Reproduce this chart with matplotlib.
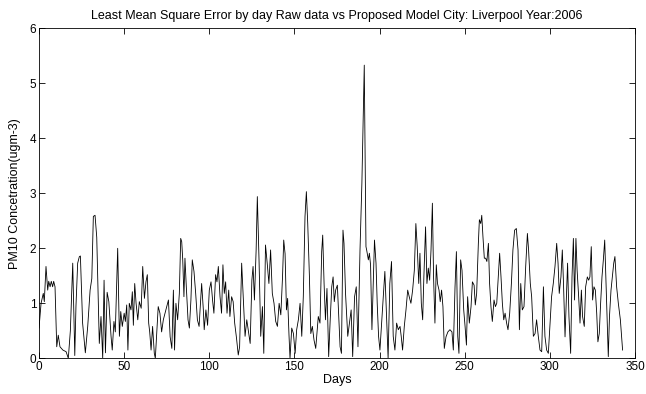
import matplotlib
matplotlib.use("Agg")
import matplotlib.pyplot as plt

# day positions and values
days = [0, 1.2, 2.5, 3.1, 4.1, 5.1, 5.7, 6.5, 7.2, 8.0, 8.6, 9.4, 10.4, 11.3, 12.3, 14, 15.9,
        17.2, 18.4, 19.8, 21, 21.7, 22.7, 23.7, 24.3, 25.6, 27.2, 28.6, 30, 31, 31.9, 32.9,
        33.9, 35.4, 36.4, 37.4, 38.2, 39, 40, 41, 42.3, 43, 44, 44.8, 46.2, 47.2, 48, 48.9,
        50, 50.7, 51.5, 52.2, 53, 54, 54.8, 55.4, 56.2, 57, 58, 58.9, 60, 60.9, 61.9, 62.8,
        63.6, 64.4, 65, 65.8, 66.7, 67.7, 68.3, 69, 70, 71, 72, 73, 74, 75, 76, 77, 78, 78.9,
        79.6, 80.4, 81.4, 82.4, 83.2, 83.8, 84.4, 85.1, 85.7, 86.5, 87.5, 88.3, 89.2, 90, 91,
        92, 93, 94, 94.7, 95.5, 96.5, 97, 98, 99, 100, 101, 102, 102.7, 103.7, 104.5, 105.3,
        106.3, 107.2, 108, 108.8, 109.6, 110.4, 111.4, 112.1, 113.1, 114, 114.9, 116, 117,
        117.8, 119, 120,
        121, 122, 123, 124, 125, 125.7, 126.5, 127.5, 128.2, 129.2, 130.2, 131.2, 132, 133,
        134, 135, 136, 137, 138, 139, 140, 141, 142, 143, 143.7, 144.5, 145.3, 146, 146.8,
        147.4, 148.4, 149.4, 150.4, 151.3, 152.3, 153.3, 154.3, 155.2, 156.2, 157, 157.8,
        158.8, 159.6, 160.5, 161.5, 162.5, 163.3, 164, 165, 166, 166.6, 167.4, 168.2, 169.1,
        170.1, 171, 171.9, 172.7, 173.4, 174.2, 175.2, 176, 176.8, 177.6, 178.5, 179.1, 180,
        181.3, 182.3, 183.3, 184.2,
        185.3, 186.3, 187.3, 188.5, 189.6, 191, 192, 192.4, 193.4, 194, 194.7, 195.5, 196.3,
        197, 197.9, 198.6, 199.4, 200.2, 201.2, 202.2, 203.1, 204.1, 205, 206, 207, 208, 209,
        210, 211, 212, 212.7, 213.5, 214.5, 215.5, 216.5, 217.4, 218.4, 219.4, 220.4, 221.3,
        222.1, 223, 223.7, 224.5, 225.3, 226, 227, 227.8, 228.6, 229.4, 230.2, 231, 231.7,
        232.5, 233.3, 234, 234.9, 235.6, 236.4, 237.2, 238, 239, 240.1, 241.3, 242.5, 243.3,
        244.3, 245.1, 245.9, 246.6, 247.6, 248.4, 249.4, 250.2, 251, 251.7, 252.7, 253.7,
        254.5, 255.5, 256.2, 257, 258, 258.6, 259.4, 260, 260.7, 261.5, 262.3, 263, 263.9,
        264.6, 265.4, 266.2, 267.2, 268, 268.8, 269.7, 270.5, 271.3, 272.1, 272.9, 273.7,
        274.6, 275.4, 276.4, 277.4, 278.3, 279.3, 280.3, 281.3, 282.1, 282.9, 283.8, 284.8,
        285.8, 286.8, 287.5, 288.5, 289.3, 290.3, 291.3, 292.2, 293.2, 294.2, 295.2, 296.2,
        297.1, 298.1, 299.1, 300.1, 301, 302,
        303, 304, 304.8, 305.5, 306.5, 307.3, 308, 308.9, 309.7, 310.4, 311.2, 312.2, 313,
        313.8, 314.5, 315.3, 316, 316.9, 317.7, 318.5, 319.2, 320.2, 321, 322, 322.8, 323.5,
        324.3, 325.1, 325.9, 326.7, 327.5, 328.2, 329, 329.8, 330.6, 331.4, 332.2, 333, 333.7,
        334.3, 335, 335.9, 336.7, 337.5, 338.2, 339.2, 340.2, 341.4, 342.7]

lmse = [0.55, 1.0, 1.18, 1.03, 1.67, 1.24, 1.4, 1.3, 1.4, 1.3, 1.4, 1.3, 0.21, 0.42, 0.21, 0.15, 0.12,
        0.0, 0.5, 1.73, 0.05, 0.95, 1.73, 1.85, 1.86, 0.64, 0.1, 0.58, 1.24, 1.45, 2.58, 2.6,
        2.2, 0.27, 0.76, 0.0, 1.42, 0.1, 1.2, 1.03, 0.4, 0.15, 0.67, 0.48, 2.0, 0.4, 0.85, 0.58,
        0.82, 0.67, 0.97, 0.15, 1.0, 0.88, 1.21, 0.6, 1.36, 1.0, 0.7, 1.03, 0.91, 1.67, 1.09, 1.39,
        1.52, 0.64, 0.48, 0.15, 0.58, 0.09, 0.0, 0.39, 0.94, 0.82, 0.48, 0.7, 0.82, 0.94, 1.06, 0.39, 0.18, 1.24,
        0.15, 1.0, 0.7, 1.18, 2.18, 2.12, 1.79, 1.12, 1.82, 1.3, 0.7, 0.55, 1.06, 1.79, 1.58,
        1.18, 0.7, 0.58, 0.94, 1.36, 0.88, 0.52, 0.88, 0.6, 1.24, 1.39, 1.03, 0.82, 1.52, 1.39, 1.67,
        1.12, 0.82, 1.7, 1.18, 1.39, 0.82, 1.24, 0.76, 1.12, 1.03, 0.64, 0.36, 0.06,
        0.21, 1.73, 1.06,
        0.4, 0.7, 0.48, 0.27, 1.42, 1.67, 1.06, 1.97, 2.94, 1.79, 0.4, 0.94, 0.09, 2.06,
        1.73, 1.36, 1.97, 1.18, 1.0, 0.67, 0.58, 1.0, 0.79, 1.48, 2.15, 1.9, 0.88, 1.09, 0.42,
        0.0, 0.55, 0.45, 0.09, 0.52, 0.7, 1.0, 0.4, 1.12, 2.58, 3.03, 2.45,
        1.48, 0.45, 0.58, 0.33, 0.18, 0.48, 0.76, 0.64, 1.94, 2.24, 1.36, 0.7, 1.27,
        0.03, 0.7, 1.3, 1.48, 1.03, 1.24, 1.33, 0.76, 0.21, 0.09, 2.33, 2.09, 1.18,
        0.4, 0.64, 0.88, 0.03,
        1.12, 1.3, 0.21, 1.97, 3.18, 5.33, 2.03, 1.97, 1.79, 1.91, 1.7, 0.52, 1.36,
        2.15, 1.73, 1.0, 0.4, 0.15, 0.64, 1.12, 1.58, 0.76, 0.0, 1.36, 1.76, 0.4, 0.15,
        0.64, 0.52, 0.58, 0.4, 0.15, 0.58, 0.88, 1.24, 1.12, 1.0, 1.24, 1.6, 2.45,
        2.03, 1.36, 1.91, 1.0, 0.7, 1.48, 2.39, 1.36, 1.64, 1.42, 1.97, 2.82, 1.48,
        0.64, 1.7, 1.36, 1.24, 1.03, 1.24, 0.94, 0.18, 0.39, 0.48, 0.52, 0.48, 0.15,
        1.3, 1.94, 0.4, 0.09, 1.79, 1.6, 0.88, 0.58, 0.24, 1.12, 0.64, 0.94,
        1.39, 1.33, 0.97, 1.18, 2.09, 2.52, 2.45, 2.6, 2.21, 1.82, 1.82, 1.76, 2.09,
        1.36, 0.94, 0.67, 1.06, 0.94, 1.0, 1.48, 1.91, 1.48, 1.0, 0.7, 0.82,
        0.64, 0.52, 0.82, 1.36, 1.97, 2.33, 2.36, 1.97, 0.52, 1.36, 0.88, 0.94,
        1.67, 2.27, 1.97, 1.36, 1.12, 0.4, 0.45, 0.7, 0.4, 0.15, 0.12, 1.3,
        0.4, 0.15, 0.09, 0.64, 1.12, 1.36,
        1.67, 2.09, 1.73, 1.18, 1.48, 1.97, 1.36, 0.39, 1.12, 1.73, 0.76, 0.09, 1.48,
        2.18, 1.06, 2.18, 1.6, 1.12, 0.64, 1.24, 0.76, 0.58, 1.3, 1.48, 1.42, 1.48,
        2.03, 1.06, 1.3, 1.24, 0.82, 0.3, 0.45, 1.0, 1.48, 1.79, 2.15, 1.36, 0.64,
        0.03, 0.76, 1.24, 1.48, 1.73, 1.85, 1.3, 1.0, 0.7, 0.15]

x_ticks = [0, 50, 100, 150, 200, 250, 300, 350]
y_ticks = [0, 1, 2, 3, 4, 5, 6]

plt.rcParams['font.family'] = ['Liberation Sans', 'DejaVu Sans']
plt.rcParams['font.size'] = 8.5

fig = plt.figure(figsize=(6.46, 3.94), dpi=100)
ax = fig.add_axes([0.0604, 0.0906, 0.9226, 0.8376])

ax.plot(days, lmse, color='black', linewidth=0.6)

ax.set_xlim(0, 350)
ax.set_ylim(0, 6)
ax.set_xticks(x_ticks)
ax.set_yticks(y_ticks)
ax.tick_params(direction='in', top=True, right=True, length=4, width=0.6, pad=2)
for s in ax.spines.values():
    s.set_linewidth(0.6)

ax.set_title("Least Mean Square Error by day Raw data vs Proposed Model City: Liverpool Year:2006",
             fontsize=9, pad=7)
ax.set_xlabel("Days", fontsize=9, labelpad=1)
ax.set_ylabel("PM10 Concetration(ugm-3)", fontsize=9, labelpad=6)

fig.savefig("out.png", dpi=100)
